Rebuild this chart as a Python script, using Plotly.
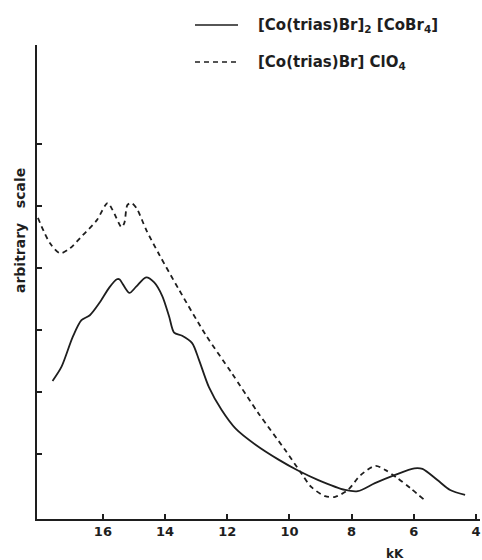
import plotly.graph_objects as go

# Solid: [Co(trias)Br]2 [CoBr4]
solid_x = [17.62, 17.33, 16.97, 16.69, 16.42, 16.11, 15.79, 15.55, 15.47, 15.15, 14.93, 14.61,
           14.35, 14.09, 13.87, 13.71, 13.45, 13.13, 12.91, 12.59, 12.18, 11.73, 11.09, 10.35,
           9.71, 9.07, 8.21, 7.80, 7.25, 6.62, 5.98, 5.72, 5.24, 4.83, 4.35]
solid_y = [2.18, 2.41, 2.89, 3.16, 3.24, 3.44, 3.69, 3.82, 3.82, 3.60, 3.70, 3.85,
           3.77, 3.55, 3.22, 2.96, 2.91, 2.79, 2.52, 2.08, 1.71, 1.41, 1.15, 0.91,
           0.73, 0.58, 0.42, 0.40, 0.53, 0.66, 0.77, 0.76, 0.58, 0.42, 0.34]

# Dashed: [Co(trias)Br] ClO4
dash_x = [18.09, 17.70, 17.38, 17.06, 16.65, 16.20, 15.85, 15.69, 15.40, 15.31, 15.21, 15.08,
          14.92, 14.60, 14.19, 13.55, 12.69, 11.86, 11.00, 10.13, 9.62, 9.30,
          8.85, 8.53, 8.12, 7.71, 7.23, 6.91, 6.52, 6.11, 5.66]
dash_y = [4.81, 4.40, 4.24, 4.32, 4.53, 4.77, 5.05, 4.94, 4.66, 4.73, 5.02, 5.05,
          4.97, 4.61, 4.22, 3.65, 2.92, 2.31, 1.66, 1.06, 0.69, 0.47,
          0.32, 0.31, 0.42, 0.66, 0.81, 0.74, 0.61, 0.45, 0.26]

x_ticks = [16, 14, 12, 10, 8, 6, 4]
y_ticks = [1, 2, 3, 4, 5, 6]

legend_labels = ["[Co(trias)Br]<sub>2</sub> [CoBr<sub>4</sub>]", "[Co(trias)Br] ClO<sub>4</sub>"]

INK = "#1e1e1e"
FONT = "DejaVu Sans"

fig = go.Figure()
fig.add_trace(go.Scatter(x=solid_x, y=solid_y, mode="lines",
                         line=dict(color=INK, width=1.8, shape="spline", smoothing=0.8),
                         showlegend=False))
fig.add_trace(go.Scatter(x=dash_x, y=dash_y, mode="lines",
                         line=dict(color=INK, width=1.8, shape="spline", smoothing=0.8, dash="5px,4px"),
                         showlegend=False))

W, H = 482, 560
ml, mr, mt, mb = 37, 2, 45, 41
pw, ph = W - ml - mr, H - mt - mb

def px(x):
    return (x - ml) / pw

def py(y):
    return (H - mb - y) / ph

# manual legend
legend_rows = [(25, "solid"), (62, "5px,4px")]
for (yy, d), lab in zip(legend_rows, legend_labels):
    fig.add_shape(type="line", xref="paper", yref="paper",
                  x0=px(195), x1=px(238), y0=py(yy), y1=py(yy),
                  line=dict(color=INK, width=1.5, dash=d))
    fig.add_annotation(xref="paper", yref="paper", x=px(256), y=py(yy),
                       text="<b>" + lab + "</b>", showarrow=False, xanchor="left", yanchor="middle",
                       font=dict(family=FONT, size=15, color=INK))

fig.add_annotation(xref="paper", yref="paper", x=px(20), y=py(231),
                   text="<b>arbitrary&nbsp;&nbsp;&nbsp;scale</b>", textangle=-90, showarrow=False,
                   xanchor="center", yanchor="middle",
                   font=dict(family=FONT, size=14, color=INK))
fig.add_annotation(xref="paper", yref="paper", x=px(395), y=py(554),
                   text="<b>kK</b>", showarrow=False, xanchor="center", yanchor="middle",
                   font=dict(family=FONT, size=12, color=INK))

fig.update_layout(
    width=W, height=H,
    margin=dict(l=ml, r=mr, t=mt, b=mb),
    paper_bgcolor="white", plot_bgcolor="white",
    font=dict(family=FONT, color=INK),
)
fig.update_xaxes(range=[18.12, 3.87], tickvals=x_ticks, ticktext=[f"<b>{v}</b>" for v in x_ticks],
                 ticks="inside", ticklen=5, tickwidth=1.5, tickcolor=INK,
                 ticklabeloverflow="allow",
                 showline=True, linecolor=INK, linewidth=1.5, showgrid=False, zeroline=False,
                 tickfont=dict(family=FONT, size=13, color=INK))
fig.update_yaxes(range=[-0.048, 7.6], tickvals=y_ticks, showticklabels=False,
                 ticks="inside", ticklen=5, tickwidth=1.5, tickcolor=INK,
                 showline=True, linecolor=INK, linewidth=2, showgrid=False, zeroline=False)

fig.write_html("out.html", config={"displayModeBar": False},
               post_script="document.body.style.margin='0';document.body.style.overflow='hidden';")
